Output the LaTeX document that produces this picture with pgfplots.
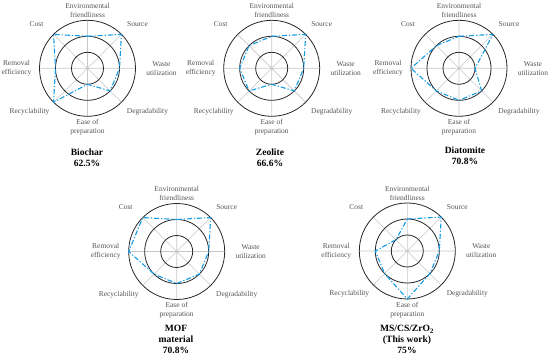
\documentclass[border=0pt]{standalone}
\usepackage{pgfplots}
\pgfplotsset{compat=1.18}
\usepgfplotslibrary{polar}
\usepackage{fontspec}
\setmainfont{Liberation Serif}
\definecolor{radblue}{RGB}{20,155,230}
\definecolor{labgray}{RGB}{85,85,85}
\newcommand{\radar}[6]{%
\begin{polaraxis}[at={(#1bp,#2bp)}, anchor=center, width=96bp, height=96bp, scale only axis,
  ymin=0, ymax=3, xtick={0,45,...,315}, ytick={1,2}, xticklabels={}, yticklabels={},
  major tick length=0pt, grid=major,
  x grid style={black!22, line width=0.6pt},
  y grid style={black!85, line width=0.8pt},
  x axis line style={black!85, line width=0.8pt},
  y axis line style={draw=none}, clip=false]
\addplot[radblue, line width=1.1pt, dash pattern=on 5pt off 2pt on 1.2pt off 2pt, mark=none] coordinates {#3};
\end{polaraxis}
\begin{scope}[shift={(#1bp,#2bp)}, every node/.style={font=\fontsize{7.5}{9}\selectfont, text=labgray, align=center, inner sep=0pt}]
\node at (0bp,58bp) {Environmental\\friendliness};
\node at (50bp,44bp) {Source};
\node at (-51bp,44bp) {Cost};
\node at (-71bp,0bp) {Removal\\efficiency};
\node at (74bp,0bp) {Waste\\utilization};
\node at (-58bp,-43bp) {Recyclability};
\node at (60bp,-43bp) {Degradability};
\node at (0bp,-59bp) {Ease of\\preparation};
\end{scope}
\node[font=\bfseries\fontsize{9.6}{11}\selectfont, align=center, anchor=north, inner sep=0pt] at (#4bp,#5bp) {#6};
}
\begin{document}
\begin{tikzpicture}
\useasboundingbox (0,0) rectangle (550bp,357bp);
% angles: Env 90, Source 45, Waste 0, Degrad 315, Ease 270, Recycl 225, Removal 180, Cost 135
% radius: 1 = inner circle, 2 = middle circle, 3 = outer circle
\radar{87.5}{288.7}{(90,2)(45,3)(0,2)(315,2)(270,1)(225,3)(180,2)(135,3)(90,2)}{87}{208.5}{Biochar\\62.5\%}
\radar{271.7}{288.7}{(90,2)(45,3)(0,2)(315,2)(270,1)(225,2)(180,2)(135,2)(90,2)}{270}{208.5}{Zeolite\\66.6\%}
\radar{459}{288.7}{(90,2)(45,3)(0,1)(315,2)(270,2)(225,2)(180,3)(135,2)(90,2)}{465}{210.5}{Diatomite\\70.8\%}
\radar{176.7}{105.5}{(90,2)(45,3)(0,2)(315,2)(270,2)(225,2)(180,3)(135,3)(90,2)}{176}{32}{MOF\\material\\70.8\%}
\radar{407.3}{106}{(90,2)(45,3)(0,2)(315,2)(270,3)(225,2)(180,2)(135,1)(90,2)}{407}{32}{MS/CS/ZrO\textsubscript{2}\\(This work)\\75\%}
\end{tikzpicture}
\end{document}
